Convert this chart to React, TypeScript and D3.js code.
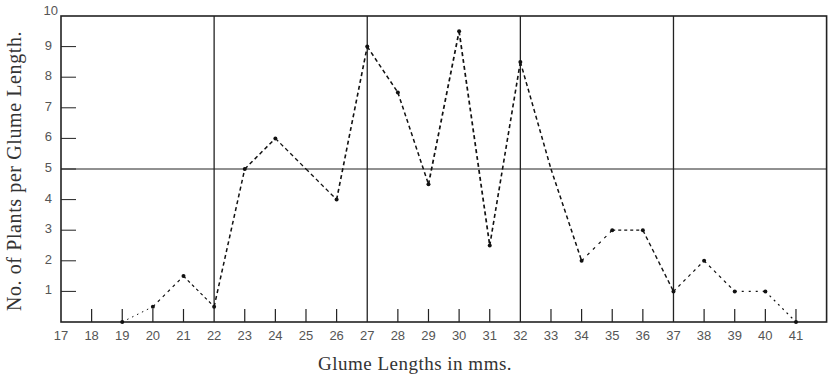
import React from "react";
import * as d3 from "d3";

const lengths = [19, 20, 21, 22, 23, 24, 25, 26, 27, 28, 29, 30, 31, 32, 33, 34, 35, 36, 37, 38, 39, 40, 41];
const plants = [0, 0.5, 1.5, 0.5, 5, 6, 5, 4, 9, 7.5, 4.5, 9.5, 2.5, 8.5, 5, 2, 3, 3, 1, 2, 1, 1, 0];
const markerLengths = [19, 20, 21, 22, 23, 24, 26, 27, 28, 29, 30, 31, 32, 34, 35, 36, 37, 38, 39, 40, 41];
const xTickLabels = d3.range(17, 42);
const yTickLabels = d3.range(1, 10);
const xGrid = [22, 27, 32, 37];
const yGrid = [5];

// dash style per segment (segment i goes from point i to i+1)
const segDash = [
  "1.5,4", "3,4", "3,3", "4,3", "4,3", "4,3", "4,3", "4,3", "4,3", "4,3", "4,3",
  "4,3", "4,3", "4,3", "4,3", "3,5", "3,3", "4,3", "3,4", "3,4", "2,5", "2,4",
];
const segWidth = [1, 1.2, 1.2, 1.5, 1.5, 1.3, 1.3, 1.6, 1.5, 1.5, 1.7, 1.7, 1.6, 1.5, 1.5, 1.2, 1.2, 1.4, 1.2, 1.2, 1.2, 1.2];

export default function App() {
  const W = 829, H = 377;
  const x = d3.scaleLinear().domain([17, 42]).range([61, 826.6]);
  const y = d3.scaleLinear().domain([0, 10]).range([322, 16]);
  const ink = "#222";
  const pts = lengths.map((l, i) => [x(l), y(plants[i])] as [number, number]);
  const tickFont = "Liberation Sans, sans-serif";
  return (
    <svg width={W} height={H} style={{ position: "absolute", left: 0, top: 0, background: "#fff" }}>
      {/* grid */}
      {xGrid.map((g) => (
        <line key={"xg" + g} x1={x(g)} x2={x(g)} y1={y(10)} y2={y(0)} stroke={ink} strokeWidth={1.3} />
      ))}
      {yGrid.map((g) => (
        <line key={"yg" + g} x1={x(17)} x2={x(42)} y1={y(g)} y2={y(g)} stroke={ink} strokeWidth={1} />
      ))}
      {/* frame */}
      <rect x={x(17)} y={y(10)} width={x(42) - x(17)} height={y(0) - y(10)} fill="none" stroke={ink} strokeWidth={1.6} />
      {/* y ticks */}
      {yTickLabels.map((t) => (
        <g key={"yt" + t}>
          <line x1={x(17)} x2={x(17) + 15} y1={y(t)} y2={y(t)} stroke={ink} strokeWidth={1} />
          <text x={x(17) - 9} y={y(t) + 3} textAnchor="end" fontFamily={tickFont} fontSize={13} fill="#555">{t}</text>
        </g>
      ))}
      <text x={x(17) - 3} y={y(10) - 1} textAnchor="end" fontFamily={tickFont} fontSize={13} fill="#555">10</text>
      {/* x ticks */}
      {xTickLabels.map((t) => (
        <g key={"xt" + t}>
          {xGrid.indexOf(t) < 0 && t !== 17 && (
            <line x1={x(t)} x2={x(t)} y1={y(0)} y2={y(0) - 13} stroke={ink} strokeWidth={1.2} />
          )}
          <text x={x(t)} y={y(0) + 18} textAnchor="middle" fontFamily={tickFont} fontSize={13} fill="#555">{t}</text>
        </g>
      ))}
      {/* data segments */}
      {pts.slice(0, -1).map((p, i) => (
        <line key={"s" + i} x1={p[0]} y1={p[1]} x2={pts[i + 1][0]} y2={pts[i + 1][1]} stroke="#111" strokeWidth={segWidth[i]} strokeDasharray={segDash[i]} />
      ))}
      {markerLengths.map((l) => {
        const i = lengths.indexOf(l);
        return <circle key={"m" + l} cx={x(l)} cy={y(plants[i])} r={2} fill="#111" />;
      })}
      {/* axis titles */}
      <text transform={`translate(21,${(y(0) + y(10)) / 2 + 2}) rotate(-90)`} textAnchor="middle" fontFamily="Liberation Serif, serif" fontSize={20} letterSpacing={0.6} fill="#333">No. of Plants per Glume Length.</text>
      <text x={415} y={370} textAnchor="middle" fontFamily="Liberation Serif, serif" fontSize={19} letterSpacing={0.5} fill="#333">Glume Lengths in mms.</text>
    </svg>
  );
}
